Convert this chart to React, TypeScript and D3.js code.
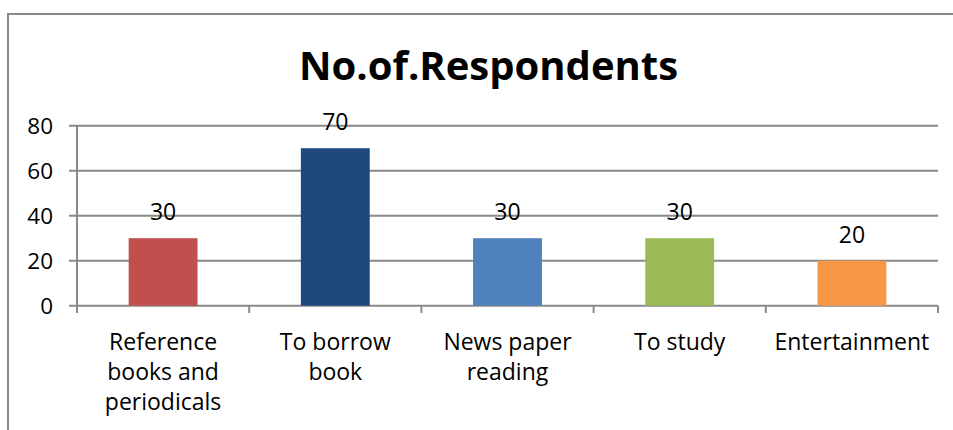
import React from "react";
import * as d3 from "d3";

const categories = ["Reference books and periodicals", "To borrow book", "News paper reading", "To study", "Entertainment"];
const categoryLines = [["Reference", "books and", "periodicals"], ["To borrow", "book"], ["News paper", "reading"], ["To study"], ["Entertainment"]];
const values = [30, 70, 30, 30, 20];
const barColors = ["#C0504D", "#1F497D", "#4F81BD", "#9BBB59", "#F79646"];
const yTicks = [0, 20, 40, 60, 80];
const title = "No.of.Respondents";

const W = 953, H = 430;
const FONT = "'Open Sans', 'Noto Sans', sans-serif";

export default function App() {
  const x = d3.scaleBand<string>().domain(categories).range([77, 938]).paddingInner(0).paddingOuter(0);
  const y = d3.scaleLinear().domain([0, 80]).range([305.7, 125.7]);
  const bw = x.bandwidth() * 0.4;
  const grid = "#898989";
  const tickXs = [...categories.map((c) => x(c)!), 938];
  return (
    <div style={{ position: "fixed", left: 0, top: 0 }}>
      <svg width={W} height={H} style={{ display: "block", background: "#fff" }} fontFamily={FONT}>
        <rect x={8} y={14} width={W + 20} height={H + 20} fill="#fff" stroke={grid} strokeWidth={2} />
        <text x={488.5} y={80} textAnchor="middle" fontSize={40} fontWeight="bold" fill="#000">{title}</text>
        {yTicks.map((t) => (
          <g key={t}>
            <line x1={69} x2={938} y1={y(t)} y2={y(t)} stroke={grid} strokeWidth={2} />
            <text x={53} y={y(t)} dy="0.36em" textAnchor="end" fontSize={22.5} fill="#000">{t}</text>
          </g>
        ))}
        <line x1={77} x2={77} y1={y(80)} y2={313} stroke={grid} strokeWidth={2} />
        {tickXs.map((tx, i) => (
          <line key={i} x1={tx} x2={tx} y1={y(0)} y2={313} stroke={grid} strokeWidth={2} />
        ))}
        {categories.map((c, i) => {
          const cx = x(c)! + x.bandwidth() / 2;
          return (
            <g key={c}>
              <rect x={cx - bw / 2} y={y(values[i])} width={bw} height={y(0) - y(values[i])} fill={barColors[i]} />
              <text x={cx} y={y(values[i]) - 18} textAnchor="middle" fontSize={23} fill="#000">{values[i]}</text>
              {categoryLines[i].map((ln, j) => (
                <text key={j} x={cx} y={350 + j * 30} textAnchor="middle" fontSize={23} fill="#000">{ln}</text>
              ))}
            </g>
          );
        })}
      </svg>
    </div>
  );
}
